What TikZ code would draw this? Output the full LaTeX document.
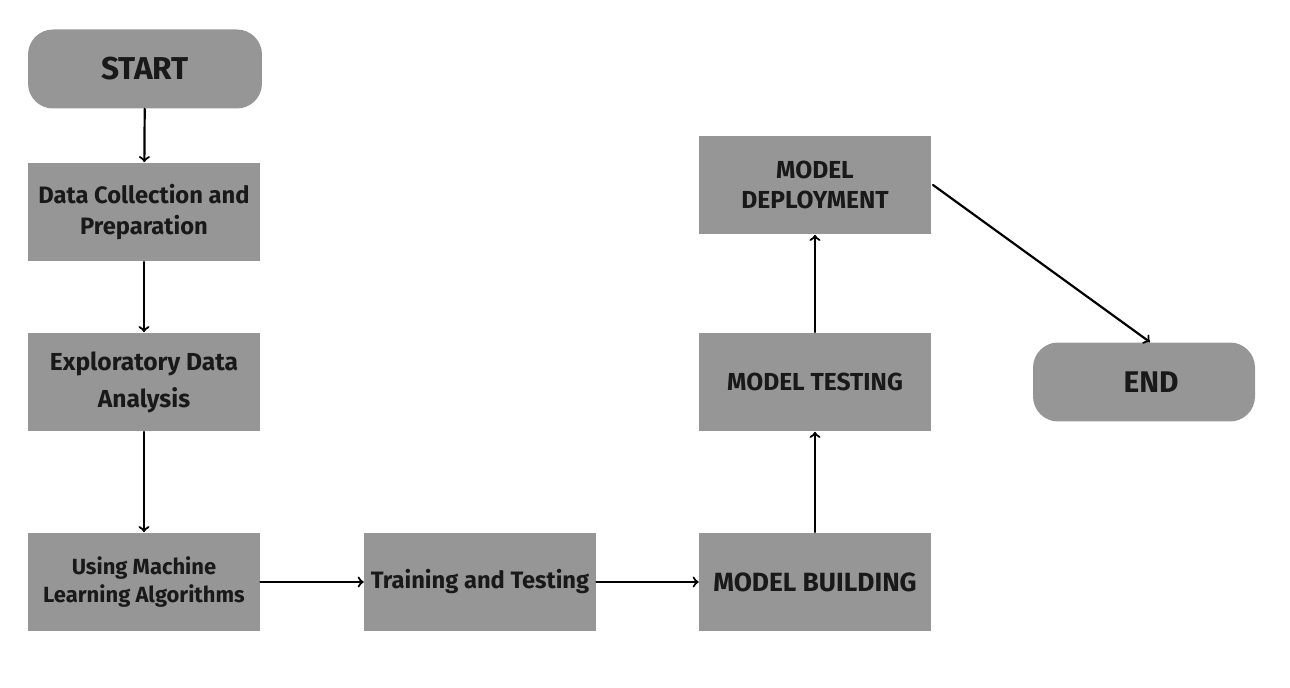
\documentclass[tikz,border=0pt]{standalone}
\usepackage{fontspec}
\setmainfont{Fira Sans}
\usetikzlibrary{arrows}
\definecolor{boxgray}{rgb}{0.588,0.588,0.588}
\definecolor{txtdark}{rgb}{0.1,0.1,0.1}
\tikzset{
	stepbox/.style={rectangle,fill=boxgray,minimum width=4.64cm,minimum height=1.98cm,align=center,inner sep=2pt,text=txtdark,font=\bfseries},
	termbox/.style={rectangle,rounded corners=0.5cm,fill=boxgray,minimum height=1.58cm,align=center,text=txtdark,font=\bfseries},
	flow/.style={->,line width=1.25pt,color=black}
}
\begin{document}
\begin{tikzpicture}[line cap=round,line join=round,>=to,x=0.02cm,y=-0.02cm]
	\useasboundingbox (0,0) rectangle (1290,688);
	\node[termbox,minimum width=4.68cm,font=\bfseries\fontsize{18}{20}\selectfont] (start) at (145,69) {START};
	\node[stepbox,font=\bfseries\fontsize{13.5}{18}\selectfont] (collect) at (144,212) {Data Collection and\\Preparation};
	\node[stepbox,font=\bfseries\fontsize{14}{21}\selectfont] (eda) at (144,382) {Exploratory Data\\Analysis};
	\node[stepbox,font=\bfseries\fontsize{12.5}{16}\selectfont] (mlalgo) at (144,582) {Using Machine\\Learning Algorithms};
	\node[stepbox,font=\bfseries\fontsize{13.5}{16}\selectfont] (train) at (480,582) {Training and Testing};
	\node[stepbox,font=\bfseries\fontsize{15}{18}\selectfont] (build) at (815,582) {MODEL BUILDING};
	\node[stepbox,font=\bfseries\fontsize{14}{16}\selectfont] (test) at (815,382) {MODEL TESTING};
	\node[stepbox,font=\bfseries\fontsize{14}{17}\selectfont] (deploy) at (815,185) {MODEL\\DEPLOYMENT};
	\node[termbox,minimum width=4.44cm,font=\bfseries\fontsize{17}{20}\selectfont] (finish) at (1144,382) {\hspace*{0.28cm}END};
	\coordinate (dout) at (933,185);
	\draw[flow] (start) -- (collect);
	\draw[flow] (collect) -- (eda);
	\draw[flow] (eda) -- (mlalgo);
	\draw[flow] (mlalgo) -- (train);
	\draw[flow] (train) -- (build);
	\draw[flow] (build) -- (test);
	\draw[flow] (test) -- (deploy);
	\draw[flow] (dout) -- ([xshift=0.12cm]finish.north);
\end{tikzpicture}
\end{document}
